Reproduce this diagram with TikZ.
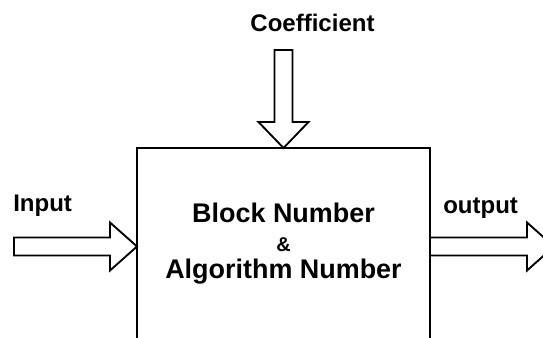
\documentclass[tikz,border=0pt]{standalone}
\usepackage{fontspec}
\setmainfont{Liberation Sans}
\begin{document}
\begin{tikzpicture}[x=0.75pt,y=-0.75pt,
  outline/.style={line width=1.4pt,line join=miter},
  blockbox/.style={outline,draw,rectangle,inner sep=0pt,outer sep=0pt,
    minimum width=219.75pt,minimum height=147.75pt},
  lbl/.style={inner sep=0pt,font=\fontsize{18}{20}\selectfont\bfseries},
  boxlbl/.style={inner sep=0pt,font=\fontsize{20.2}{23}\selectfont\bfseries}]
  \path[use as bounding box,clip] (0,0) rectangle (543,338);

  % processing block (runs off the lower edge)
  \node[blockbox] (box) at (283.5,246.5) {};

  % texts inside the block
  \node[boxlbl,anchor=base] (l1) at (283.5,223) {Block Number};
  \node[inner sep=0pt,font=\fontsize{15}{17}\selectfont\bfseries,anchor=base] (l2) at (283.5,252) {\&};
  \node[boxlbl,anchor=base] (l3) at (283.5,279) {Algorithm Number};

  % port labels
  \node[lbl,anchor=base] (coef) at (312.5,32) {Coefficient};
  \node[lbl,anchor=base west] (inlbl) at (13,212) {Input};
  \node[lbl,anchor=base west] (outlbl) at (443,214) {output};

  % input arrow, tip on the left side of the block
  \draw[outline] (box.west) -- ++(-27,-24) -- ++(0,15) -- ++(-96,0)
    -- ++(0,18) -- ++(96,0) -- ++(0,15) -- cycle;

  % output arrow, shaft starting on the right side of the block
  \draw[outline] (box.east) ++(0,-9) -- ++(97,0) -- ++(0,-15) -- ++(27,24)
    -- ++(-27,24) -- ++(0,-15) -- ++(-97,0);

  % coefficient arrow, tip on the top side of the block
  \draw[outline] (box.north) -- ++(-25,-26) -- ++(16,0) -- ++(0,-72)
    -- ++(18,0) -- ++(0,72) -- ++(16,0) -- cycle;
\end{tikzpicture}
\end{document}
